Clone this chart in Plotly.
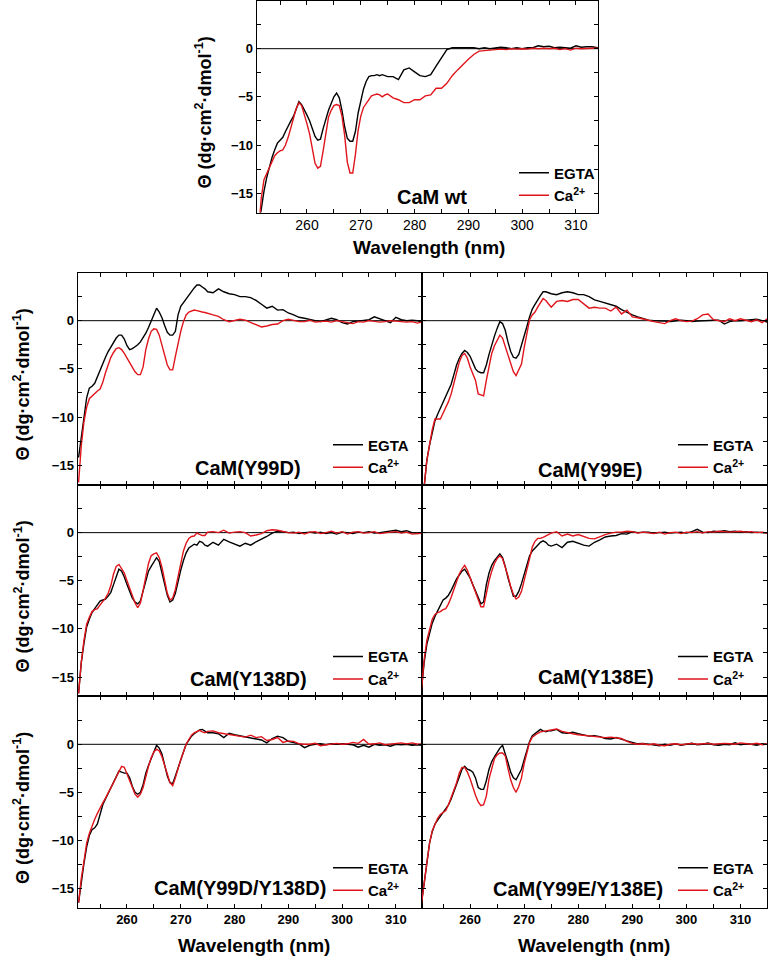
import plotly.graph_objects as go

# ---------------- data ----------------
WAVELENGTH = [251.0, 251.5, 252.0, 252.5, 253.0, 253.5, 254.0, 254.5, 255.0, 255.5,
              256.0, 256.5, 257.0, 257.5, 258.0, 258.5, 259.0, 259.5, 260.0, 260.5,
              261.0, 261.5, 262.0, 262.5, 263.0, 263.5, 264.0, 264.5, 265.0, 265.5,
              266.0, 266.5, 267.0, 267.5, 268.0, 268.5, 269.0, 269.5, 270.0, 270.5,
              271.0, 271.5, 272.0, 272.5, 273.0, 273.5, 274.0, 274.5, 275.0,
              276, 277, 278, 279, 280, 281, 282, 283, 284, 285,
              286, 287, 288, 289, 290, 291, 292, 293, 294, 295,
              296, 297, 298, 299, 300, 301, 302, 303, 304, 305,
              306, 307, 308, 309, 310, 311, 312, 313, 314, 315]

WT_EGTA = [-18.5, -16.5, -14.8, -13.4, -12.2, -11.3, -10.5, -9.8, -9.5, -9.2,
           -8.6, -8.0, -7.5, -7.0, -6.3, -5.5, -5.8, -6.3, -6.9, -7.5,
           -8.3, -9.1, -9.5, -9.4, -8.3, -7.2, -6.4, -5.7, -5.0, -4.6,
           -5.1, -6.4, -8.1, -9.3, -9.6, -9.6, -8.6, -6.7, -5.4, -4.2,
           -3.4, -2.9, -2.8, -2.8, -2.7, -2.8, -2.7, -2.8, -2.9,
           -2.9, -3.2, -2.2, -2.0, -2.4, -2.8, -2.9, -2.7, -1.8, -0.9,
           -0.1, 0.1, 0.1, 0.15, 0.1, 0.1, 0.0, 0.1, 0.0, 0.05,
           0.15, 0.1, 0.0, 0.1, 0.0, 0.1, 0.1, 0.3, 0.2, 0.25,
           0.1, 0.15, 0.1, 0.05, 0.3, 0.15, 0.2, 0.2, 0.1, 0.1]
WT_CA = [-19.0, -15.5, -13.6, -13.0, -12.4, -11.8, -11.1, -10.8, -10.6, -10.5,
         -10.0, -9.2, -8.3, -7.2, -6.2, -5.6, -5.9, -6.8, -7.8, -8.9,
         -10.5, -11.9, -12.4, -12.2, -10.6, -8.6, -7.1, -6.4, -5.9, -5.8,
         -5.9, -7.0, -9.0, -11.8, -12.9, -12.9, -11.0, -8.5, -7.0, -6.1,
         -5.7, -5.3, -4.9, -4.8, -4.7, -4.8, -5.0, -4.8, -4.7,
         -5.1, -5.3, -5.6, -5.6, -5.3, -5.3, -4.9, -4.8, -4.1, -4.1,
         -3.6, -2.8, -2.2, -1.6, -1.1, -0.6, -0.25, -0.2, -0.15, -0.1,
         -0.05, -0.1, 0.0, -0.05, 0.0, -0.05, 0.05, 0.0, 0.05, 0.0,
         0.05, -0.1, 0.0, -0.15, 0.05, 0.0, 0.05, 0.05, 0.05, 0.05]

Y99D_EGTA = [-14.2, -12.0, -10.0, -8.0, -7.0, -6.8, -6.5, -5.8, -5.0, -4.4,
             -3.8, -3.2, -2.7, -2.2, -1.8, -1.5, -1.5, -1.9, -2.6, -3.0,
             -2.9, -2.7, -2.5, -2.2, -1.8, -1.3, -0.7, 0.0, 0.7, 1.3,
             0.9, 0.3, -0.5, -1.2, -1.5, -1.5, -1.1, 0.6, 1.5, 1.9,
             2.3, 2.6, 3.1, 3.4, 3.7, 3.7, 3.5, 3.3, 3.0,
             2.9, 3.3, 3.0, 2.8, 2.7, 2.5, 2.5, 2.4, 2.1, 1.7,
             1.3, 1.5, 1.1, 1.15, 0.8, 0.6, 0.35, 0.25, 0.1, 0.0,
             -0.1, 0.1, 0.25, 0.1, -0.2, -0.35, -0.1, -0.05, 0.0, 0.1,
             0.4, 0.2, 0.05, -0.2, 0.35, 0.1, 0.0, 0.05, 0.0, -0.2]
Y99D_CA = [-16.8, -13.0, -10.5, -9.0, -8.1, -7.8, -7.5, -7.3, -7.1, -6.4,
           -5.4, -4.5, -3.8, -3.3, -2.9, -2.8, -3.0, -3.4, -3.9, -4.4,
           -4.9, -5.3, -5.6, -5.6, -4.8, -3.0, -1.9, -1.1, -0.85, -0.9,
           -1.5, -2.6, -3.7, -4.6, -5.1, -5.1, -3.7, -2.2, -1.1, -0.1,
           0.6, 0.9, 1.0, 1.1, 1.05, 0.95, 0.9, 0.85, 0.75,
           0.6, 0.45, 0.1, -0.1, 0.0, 0.15, 0.05, -0.2, -0.4, -0.65,
           -0.55, -0.4, -0.35, 0.0, 0.15, 0.05, -0.1, -0.1, 0.05, -0.15,
           -0.1, -0.05, -0.15, 0.0, -0.1, -0.2, -0.3, -0.1, -0.15, 0.0,
           -0.05, -0.15, -0.1, 0.0, -0.05, -0.1, -0.15, -0.1, -0.25, -0.1]

Y99E_EGTA = [-20.0, -17.5, -14.5, -12.9, -11.5, -10.4, -9.7, -9.1, -8.5, -7.9,
             -7.3, -6.6, -5.6, -4.6, -3.9, -3.4, -3.1, -3.3, -3.7, -4.3,
             -5.0, -5.3, -5.4, -5.4, -4.6, -3.5, -2.5, -1.6, -0.8, -0.1,
             -0.3, -1.0, -2.2, -3.2, -3.8, -3.9, -3.5, -2.6, -1.7, -0.6,
             0.4, 1.2, 1.7, 2.2, 2.6, 3.0, 3.0, 2.9, 2.8,
             2.7, 2.9, 3.0, 2.9, 2.7, 2.7, 2.5, 2.15, 2.0, 1.85,
             1.7, 1.5, 1.15, 0.85, 0.6, 0.4, 0.2, 0.05, 0.0, 0.0,
             -0.05, -0.1, 0.0, 0.05, 0.0, -0.1, -0.05, 0.0, 0.0, 0.05,
             0.05, -0.35, -0.1, 0.0, 0.0, 0.05, 0.1, 0.15, 0.0, -0.15]
Y99E_CA = [-20.0, -17.5, -14.5, -12.9, -11.3, -10.2, -10.2, -10.2, -9.6, -9.0,
           -8.4, -7.6, -6.6, -5.4, -4.3, -3.6, -3.4, -3.9, -4.8, -5.6,
           -6.2, -7.6, -7.7, -7.8, -6.2, -4.6, -3.4, -2.6, -2.0, -1.5,
           -1.8, -2.7, -3.7, -4.6, -5.3, -5.7, -5.0, -4.5, -2.8, -1.2,
           0.1, 0.6, 0.9, 1.4, 1.9, 2.3, 2.1, 1.7, 1.4,
           2.0, 2.1, 2.0, 2.2, 2.2, 1.7, 1.3, 1.4, 1.3, 1.3,
           1.0, 1.4, 0.7, 1.1, 0.4, 0.3, 0.2, 0.05, -0.1, -0.2,
           -0.3, 0.0, 0.2, 0.0, -0.1, -0.05, 0.2, 0.6, 0.7, 0.1,
           0.0, -0.1, 0.2, 0.0, 0.2, 0.05, -0.1, 0.1, -0.2, 0.2]

Y138D_EGTA = [-16.7, -13.5, -11.5, -9.8, -9.0, -8.3, -7.9, -7.5, -7.1, -7.0,
              -6.9, -6.6, -6.2, -5.4, -4.5, -3.8, -4.0, -4.6, -5.4, -6.2,
              -6.8, -7.2, -7.4, -7.1, -6.0, -4.9, -4.0, -3.5, -3.1, -2.6,
              -3.0, -4.1, -5.3, -6.5, -7.2, -7.0, -6.3, -5.0, -3.9, -2.9,
              -2.1, -1.6, -1.4, -1.2, -1.3, -0.9, -1.0, -1.3, -1.4,
              -1.0, -1.3, -0.7, -0.95, -1.2, -1.4, -1.1, -1.3, -0.95, -0.7,
              -0.4, -0.05, 0.15, 0.1, 0.0, 0.05, -0.1, 0.0, 0.05, -0.05,
              0.05, -0.1, 0.0, -0.15, 0.05, 0.0, -0.1, 0.05, 0.0, 0.1,
              -0.05, 0.0, 0.1, 0.15, 0.25, 0.1, 0.2, 0.0, -0.1, 0.0]
Y138D_CA = [-16.7, -13.5, -11.2, -9.5, -8.8, -8.2, -8.0, -7.9, -7.5, -7.2,
            -6.8, -6.3, -5.5, -4.3, -3.5, -3.3, -3.7, -4.2, -5.0, -5.8,
            -6.6, -7.3, -7.8, -7.3, -6.0, -4.6, -3.2, -2.4, -2.2, -2.1,
            -2.6, -3.6, -5.0, -6.3, -7.0, -6.8, -5.9, -4.6, -3.2, -1.9,
            -1.1, -0.6, -0.4, -0.35, -0.05, -0.2, -0.3, -0.3, 0.05,
            0.1, 0.0, 0.25, -0.05, 0.05, 0.1, 0.0, -0.35, -0.25, -0.1,
            0.2, 0.3, 0.25, 0.1, 0.0, -0.05, 0.05, -0.15, 0.05, 0.1,
            -0.1, 0.0, 0.15, -0.05, 0.1, -0.15, 0.05, 0.1, -0.05, 0.0,
            0.1, -0.1, 0.0, 0.05, 0.1, -0.05, 0.05, -0.15, -0.1, -0.05]

Y138E_EGTA = [-16.4, -13.5, -11.6, -10.4, -9.4, -8.7, -8.1, -7.5, -7.0, -6.8,
              -6.5, -6.0, -5.4, -4.8, -4.4, -4.0, -3.8, -4.2, -4.7, -5.4,
              -6.1, -6.8, -7.4, -7.2, -5.4, -4.2, -3.4, -2.9, -2.5, -2.2,
              -2.6, -3.5, -4.7, -5.8, -6.6, -6.6, -6.1, -5.3, -4.3, -3.4,
              -2.4, -1.9, -1.55, -1.3, -1.0, -0.85, -1.0, -1.3, -1.4,
              -1.2, -1.55, -1.0, -0.9, -1.1, -1.3, -1.4, -1.0, -0.75, -0.45,
              -0.35, -0.3, -0.1, -0.15, 0.1, 0.0, 0.05, 0.05, -0.05, 0.0,
              0.05, -0.05, 0.0, 0.05, -0.05, 0.1, 0.35, 0.05, 0.0, 0.15,
              0.1, 0.2, 0.1, 0.15, 0.05, 0.1, 0.0, 0.05, 0.0, -0.05]
Y138E_CA = [-16.4, -13.2, -11.2, -10.0, -9.0, -8.5, -8.3, -8.2, -8.0, -7.9,
            -7.4, -6.7, -5.9, -5.0, -4.3, -3.8, -3.4, -3.9, -4.7, -5.5,
            -6.3, -7.0, -7.7, -7.7, -6.3, -5.0, -4.0, -3.2, -2.7, -2.4,
            -2.7, -3.5, -4.5, -5.6, -6.4, -6.9, -6.7, -6.1, -5.0, -4.1,
            -2.7, -1.5, -0.9, -0.6, -0.6, -0.5, -0.35, -0.2, -0.05,
            0.1, -0.35, -0.15, -0.35, -0.2, -0.4, -0.6, -0.65, -0.4, -0.2,
            -0.05, 0.05, 0.05, 0.15, 0.1, -0.05, 0.05, 0.0, -0.1, 0.05,
            -0.15, 0.0, 0.05, -0.1, 0.05, 0.0, 0.1, -0.05, 0.1, 0.05,
            0.15, 0.1, 0.05, 0.1, 0.15, 0.05, 0.1, 0.0, 0.05, -0.05]

DD_EGTA = [-16.5, -14.2, -12.4, -10.7, -9.5, -8.9, -8.7, -8.3, -7.2, -6.3,
           -5.7, -5.1, -4.6, -4.0, -3.4, -2.8, -2.9, -3.0, -3.0, -3.5,
           -4.4, -5.0, -5.2, -5.0, -4.2, -3.0, -2.2, -1.4, -0.8, -0.1,
           -0.4, -1.0, -2.2, -3.3, -4.0, -4.1, -3.3, -2.4, -1.6, -0.8,
           0.0, 0.5, 0.85, 1.1, 1.35, 1.5, 1.55, 1.4, 1.2,
           1.2, 1.1, 0.7, 1.15, 1.0, 0.9, 0.8, 0.65, 0.55, 0.45,
           0.15, 0.6, 0.85, 0.7, 0.3, 0.15, 0.05, -0.35, -0.1, 0.0,
           0.05, -0.05, 0.05, 0.0, 0.05, 0.0, -0.05, -0.3, -0.1, -0.3,
           0.0, -0.1, -0.05, -0.2, 0.0, -0.05, 0.0, -0.1, -0.05, -0.1]
DD_CA = [-16.5, -14.0, -12.2, -10.3, -9.3, -8.5, -7.8, -7.2, -6.6, -6.1,
         -5.6, -5.1, -4.6, -4.0, -3.4, -2.8, -2.3, -2.4, -3.1, -3.8,
         -4.6, -5.2, -5.5, -5.2, -4.5, -3.3, -2.3, -1.4, -0.8, -0.5,
         -0.7, -1.3, -2.3, -3.1, -4.0, -4.3, -3.5, -2.4, -1.6, -0.8,
         0.0, 0.5, 0.95, 1.2, 1.35, 1.45, 1.3, 1.2, 1.35,
         1.4, 1.2, 1.1, 1.05, 0.95, 0.85, 0.75, 0.95, 0.7, 0.8,
         0.4, 0.5, 0.7, 0.2, 0.35, 0.3, 0.05, 0.0, 0.0, 0.1,
         -0.15, -0.05, 0.05, 0.1, 0.0, 0.05, 0.2, 0.1, 0.5, 0.0,
         0.05, 0.15, -0.05, 0.0, 0.1, 0.15, 0.05, 0.15, 0.0, 0.05]

EE_EGTA = [-16.6, -14.5, -12.2, -10.3, -9.1, -8.3, -7.9, -7.5, -7.2, -6.8,
           -6.3, -5.7, -5.0, -4.2, -3.4, -2.6, -2.3, -2.6, -2.7, -2.9,
           -3.5, -4.5, -4.7, -4.7, -3.8, -2.6, -1.8, -1.3, -0.8, -0.4,
           -0.1, -0.9, -1.9, -2.9, -3.5, -3.7, -3.2, -2.6, -1.6, -0.7,
           0.3, 0.9, 1.1, 1.35, 1.55, 1.4, 1.3, 1.4, 1.4,
           1.55, 1.2, 1.15, 1.25, 1.1, 0.95, 0.85, 0.9, 0.8, 0.6,
           0.55, 0.7, 0.5, 0.35, 0.2, 0.05, 0.1, 0.0, -0.1, -0.15,
           0.0, -0.1, 0.05, -0.1, 0.0, 0.1, -0.05, 0.0, 0.15, -0.05,
           -0.1, 0.0, -0.05, 0.15, -0.05, 0.05, 0.0, -0.1, 0.05, 0.0]
EE_CA = [-16.6, -14.5, -12.2, -10.3, -9.0, -8.3, -7.7, -7.3, -7.1, -6.9,
         -6.3, -5.6, -4.8, -4.0, -3.0, -2.4, -2.4, -2.9, -3.6, -4.5,
         -5.3, -6.0, -6.4, -6.3, -5.4, -3.6, -2.4, -1.5, -1.1, -0.9,
         -0.9, -1.2, -2.5, -3.7, -4.5, -5.0, -4.4, -3.5, -2.0, -0.9,
         0.2, 0.75, 1.0, 1.15, 1.3, 1.35, 1.4, 1.45, 1.55,
         1.6, 1.35, 1.2, 1.1, 1.0, 0.95, 0.85, 0.85, 0.8, 0.7,
         0.75, 0.7, 0.6, 0.3, 0.1, 0.0, 0.05, -0.05, 0.05, -0.1,
         -0.15, 0.0, 0.05, -0.05, 0.05, 0.1, 0.0, 0.05, 0.1, 0.0,
         0.05, 0.1, 0.05, 0.0, 0.15, 0.05, 0.0, 0.1, -0.05, 0.05]

PANEL_NAMES = ["CaM wt", "CaM(Y99D)", "CaM(Y99E)", "CaM(Y138D)", "CaM(Y138E)",
               "CaM(Y99D/Y138D)", "CaM(Y99E/Y138E)"]
EGTA_SERIES = [WT_EGTA, Y99D_EGTA, Y99E_EGTA, Y138D_EGTA, Y138E_EGTA, DD_EGTA, EE_EGTA]
CA_SERIES = [WT_CA, Y99D_CA, Y99E_CA, Y138D_CA, Y138E_CA, DD_CA, EE_CA]
SERIES_NAMES = ["EGTA", "Ca<sup>2+</sup>"]
X_TICKS = [260, 270, 280, 290, 300, 310]
X_MINOR = [255, 265, 275, 285, 295, 305, 315]
Y_TICKS = [-15, -10, -5, 0]
Y_MINOR = [-15, -12.5, -10, -7.5, -5, -2.5, 0, 2.5]
Y_TITLE = "Θ (dg·cm<sup>2</sup>·dmol<sup>-1</sup>)"
X_TITLE = "Wavelength (nm)"

# ---------------- layout geometry (pixels) ----------------
W, H = 771, 959
FONT = "Liberation Sans, Arial, sans-serif"
R1, R2, R3, R4 = 272.5, 484.5, 696.3, 907.5
# (left, right, top, bottom) px, x-range, show x labels, show y labels, legend left px
GEOM = [
    ((256.7, 598.0, 0.5, 212.5), (250.65, 314.1), True, True, 514),
    ((77.5, 421.7, R1, R2), (250.8, 314.8), False, True, 328),
    ((421.7, 767.0, R1, R2), (251.05, 314.9), False, False, 673),
    ((77.5, 421.7, R2, R3), (250.8, 314.8), False, True, 328),
    ((421.7, 767.0, R2, R3), (251.05, 314.9), False, False, 673),
    ((77.5, 421.7, R3, R4), (250.8, 314.8), True, True, 328),
    ((421.7, 767.0, R3, R4), (251.05, 314.9), True, False, 673),
]
LABEL_POS = [(432, 197), (248, 468), (590, 470), (248, 679), (596, 677), (240, 888), (578, 889)]

def px(x):
    return x / W

def py(y):
    return 1 - y / H

fig = go.Figure()
layout = dict(
    width=W, height=H,
    margin=dict(l=0, r=0, t=0, b=0),
    paper_bgcolor="white", plot_bgcolor="white",
    font=dict(family=FONT, color="black"),
    showlegend=True,
)
shapes = []
annotations = []

for i, (name, eg, ca) in enumerate(zip(PANEL_NAMES, EGTA_SERIES, CA_SERIES)):
    (l, r, t, b), xr, show_x, show_y, leg_x = GEOM[i]
    n = i + 1
    xa = "x" if n == 1 else f"x{n}"
    ya = "y" if n == 1 else f"y{n}"
    lg = "legend" if n == 1 else f"legend{n}"
    fig.add_trace(go.Scatter(x=WAVELENGTH, y=eg, mode="lines", name=SERIES_NAMES[0],
                             line=dict(color="black", width=1.4), xaxis=xa, yaxis=ya,
                             legend=lg))
    fig.add_trace(go.Scatter(x=WAVELENGTH, y=ca, mode="lines", name=SERIES_NAMES[1],
                             line=dict(color="#e0141b", width=1.4), xaxis=xa, yaxis=ya,
                             legend=lg))
    xkey = "xaxis" if n == 1 else f"xaxis{n}"
    ykey = "yaxis" if n == 1 else f"yaxis{n}"
    tick_bold = "normal" if n == 1 else "bold"
    layout[xkey] = dict(
        domain=[px(l), px(r)], anchor=ya, range=list(xr),
        showline=True, linecolor="black", linewidth=1, mirror="allticks",
        ticks="inside", ticklen=4, tickcolor="black",
        tickmode="array", tickvals=X_TICKS, showticklabels=show_x,
        tickfont=dict(size=14 if n == 1 else 13, family=FONT, weight=tick_bold),
        minor=dict(tickmode="array", tickvals=X_MINOR, ticks="inside", ticklen=4,
                   tickcolor="black"),
        showgrid=False, zeroline=False,
    )
    layout[ykey] = dict(
        domain=[py(b), py(t)], anchor=xa, range=[-17, 5],
        showline=True, linecolor="black", linewidth=1, mirror="allticks",
        ticks="inside", ticklen=4, tickcolor="black",
        tickmode="array", tickvals=Y_TICKS, showticklabels=show_y,
        tickfont=dict(size=13, family=FONT, weight="bold"),
        minor=dict(tickmode="array", tickvals=Y_MINOR, ticks="inside", ticklen=4,
                   tickcolor="black"),
        showgrid=False, zeroline=False,
    )
    layout[lg] = dict(
        x=px(leg_x), y=py(b - 56), xanchor="left", yanchor="top",
        bgcolor="rgba(0,0,0,0)", borderwidth=0, itemwidth=30,
        font=dict(size=15, family=FONT, weight="bold"),
        tracegroupgap=0,
    )
    shapes.append(dict(type="line", xref=f"{xa} domain", yref=ya, x0=0, x1=1, y0=0, y1=0,
                       line=dict(color="black", width=1), layer="below"))
    lx, ly = LABEL_POS[i]
    annotations.append(dict(text=name, x=px(lx), y=py(ly), xref="paper", yref="paper",
                            showarrow=False, xanchor="center", yanchor="middle",
                            font=dict(size=20, family=FONT, weight="bold")))
    if show_y:
        tx = 204 if n == 1 else 22
        annotations.append(dict(text=Y_TITLE, x=px(tx), y=py((t + b) / 2 + 6),
                                xref="paper", yref="paper", showarrow=False,
                                textangle=-90, xanchor="center", yanchor="middle",
                                font=dict(size=18, family=FONT, weight="bold")))

annotations.append(dict(text=X_TITLE, x=px(429), y=py(247), xref="paper", yref="paper",
                        showarrow=False, xanchor="center", yanchor="middle",
                        font=dict(size=19, family=FONT, weight="bold")))
annotations.append(dict(text=X_TITLE, x=px(254), y=py(945), xref="paper", yref="paper",
                        showarrow=False, xanchor="center", yanchor="middle",
                        font=dict(size=19, family=FONT, weight="bold")))
annotations.append(dict(text=X_TITLE, x=px(594), y=py(945), xref="paper", yref="paper",
                        showarrow=False, xanchor="center", yanchor="middle",
                        font=dict(size=19, family=FONT, weight="bold")))

layout["shapes"] = shapes
layout["annotations"] = annotations
fig.update_layout(**layout)
fig.write_html(
    "out.html",
    config={"displayModeBar": False},
    post_script="document.body.style.margin='0px';document.body.style.overflow='hidden';",
)
